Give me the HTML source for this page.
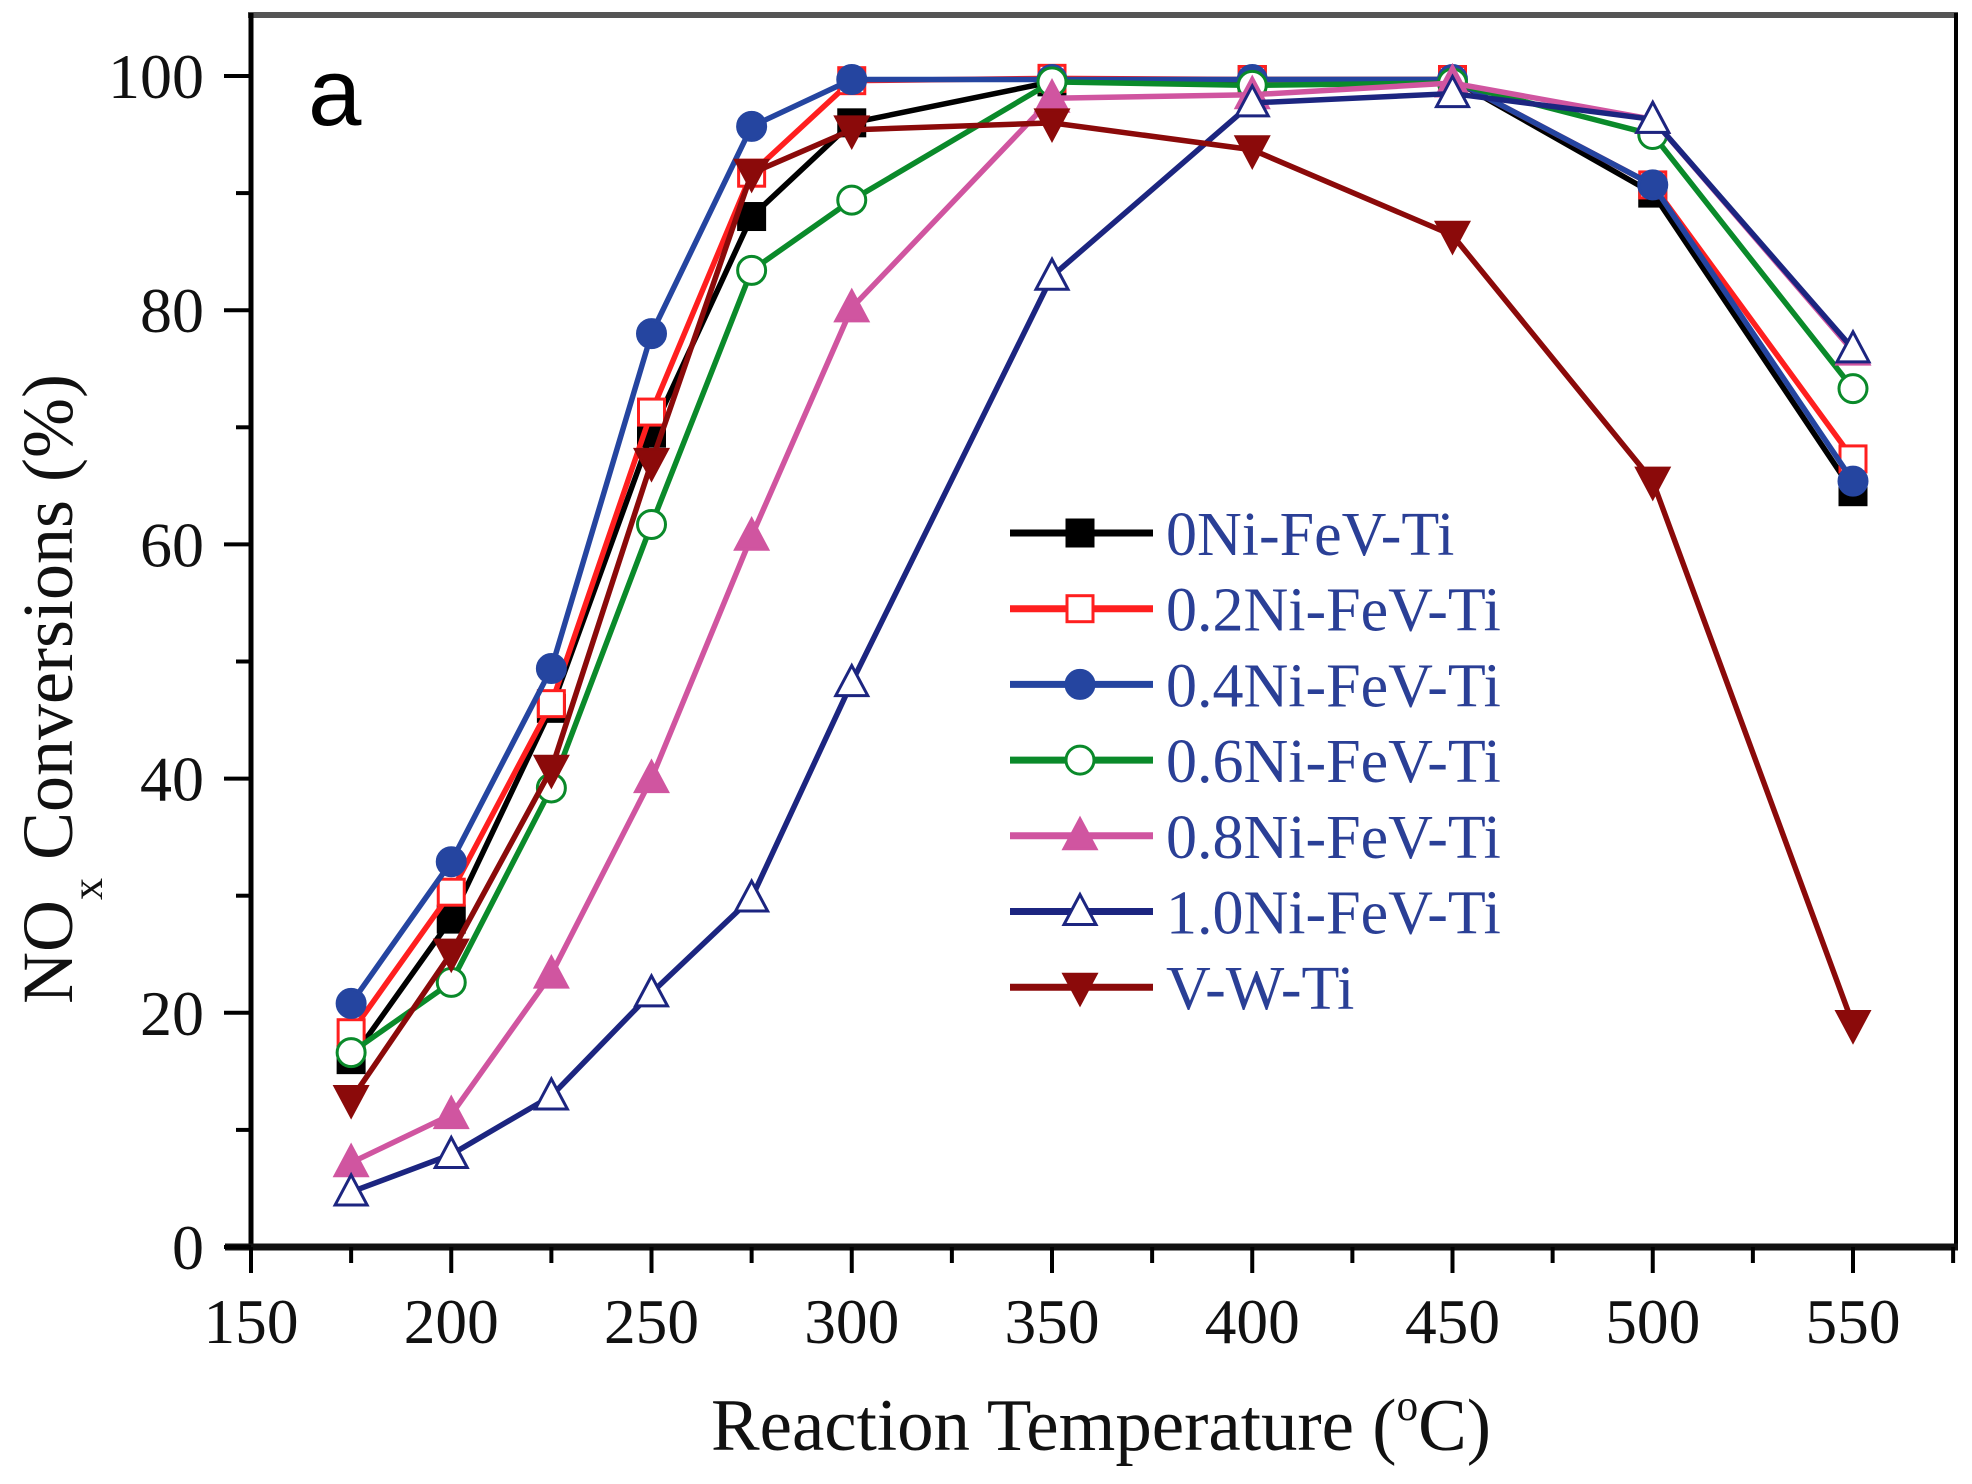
<!DOCTYPE html>
<html><head><meta charset="utf-8"><style>
html,body{margin:0;padding:0;background:#fff;}
svg{display:block;font-family:"Liberation Serif",serif;}
</style></head><body>
<svg id="chart" width="1972" height="1484" viewBox="0 0 1972 1484" xmlns="http://www.w3.org/2000/svg">
<rect x="0" y="0" width="1972" height="1484" fill="#fff"/>
<g id="plot"></g>
</svg>
<script>
const temps=[175,200,225,250,275,300,350,400,450,500,550];
const sNames=["0Ni-FeV-Ti","0.2Ni-FeV-Ti","0.4Ni-FeV-Ti","0.6Ni-FeV-Ti","0.8Ni-FeV-Ti","1.0Ni-FeV-Ti","V-W-Ti"];
const s0=[16,28,46,69.5,88,96,99.5,99.7,99.7,90,64.5];
const s02=[18.3,30.3,46.4,71.3,91.7,99.6,99.8,99.7,99.7,90.7,67.3];
const s04=[20.8,32.9,49.4,78,95.7,99.7,99.7,99.7,99.7,90.7,65.4];
const s06=[16.6,22.6,39.2,61.7,83.4,89.4,99.5,99.2,99.4,95,73.3];
const s08=[7.2,11.3,23.3,40,60.7,80.2,98.1,98.4,99.4,96.3,76.5];
const s10=[4.7,7.9,12.9,21.7,29.8,48.2,82.9,97.7,98.5,96.3,76.7];
const svw=[12.6,25.1,40.8,67,91.7,95.4,96,93.7,86.4,65.4,19];
const xTicks=[150,200,250,300,350,400,450,500,550];
const yTicks=[0,20,40,60,80,100];

const NS="http://www.w3.org/2000/svg";
const g=document.getElementById('plot');
const X0=251,X1=1853,Y0=1247,Y1=76;
function xs(v){return X0+(v-150)*(X1-X0)/400;}
function ys(v){return Y0-v*(Y0-Y1)/100;}
function el(tag,attrs,parent){const e=document.createElementNS(NS,tag);for(const k in attrs)e.setAttribute(k,attrs[k]);(parent||g).appendChild(e);return e;}

const series=[
 {v:s0,c:"#000",m:"square",fill:true},
 {v:s02,c:"#ff1f1f",m:"square",fill:false},
 {v:s04,c:"#2545a0",m:"circle",fill:true},
 {v:s06,c:"#0a8a2a",m:"circle",fill:false},
 {v:s08,c:"#d055a0",m:"tri",fill:true},
 {v:s10,c:"#1c2580",m:"tri",fill:false},
 {v:svw,c:"#8b0a0a",m:"tridown",fill:true}
];
function marker(parent,type,cx,cy,c,fill){
 const f=fill?c:"#fff";let e;
 if(type==="square")e=el('rect',{x:cx-13,y:cy-13,width:26,height:26,fill:f,stroke:c,'stroke-width':3},parent);
 else if(type==="circle")e=el('circle',{cx:cx,cy:cy,r:14,fill:f,stroke:c,'stroke-width':3},parent);
 else if(type==="tri")e=el('polygon',{points:`${cx},${cy-17} ${cx-16},${cy+13} ${cx+16},${cy+13}`,fill:f,stroke:c,'stroke-width':3},parent);
 else e=el('polygon',{points:`${cx},${cy+17} ${cx-16},${cy-13} ${cx+16},${cy-13}`,fill:f,stroke:c,'stroke-width':3},parent);
 return e;
}
const frame=el('g',{});


el('line',{x1:248,y1:15,x2:1958,y2:15,stroke:'#555','stroke-width':6},frame);
el('line',{x1:1956,y1:13,x2:1956,y2:1250,stroke:'#000','stroke-width':4},frame);
el('line',{x1:251,y1:13,x2:251,y2:1250,stroke:'#000','stroke-width':5},frame);
el('line',{x1:225,y1:1247,x2:1958,y2:1247,stroke:'#111','stroke-width':7},frame);
for(let i=0;i<=10;i++){const v=i*10;const y=ys(v);const major=i%2===0;
 const t=el('line',{x1:major?224:236,y1:y,x2:251,y2:y,stroke:'#000','stroke-width':4});
 
 }
yTicks.forEach(v=>{const t=el('text',{x:204,y:ys(v)+22,'text-anchor':'end','font-size':64,fill:'#111'});t.textContent=v;
 
 });
for(let v=150;v<=575;v+=25){const x=xs(v);const major=(v%50===0);
 const t=el('line',{x1:x,y1:1247,x2:x,y2:major?1273:1263,stroke:'#000','stroke-width':4});
 
 }
xTicks.forEach(v=>{const t=el('text',{x:xs(v),y:1343,'text-anchor':'middle','font-size':64,fill:'#111',textLength:95,lengthAdjust:'spacingAndGlyphs'});t.textContent=v;
 
 });
const xt=el('text',{x:711,y:1450,'font-size':74,fill:'#111',textLength:780,lengthAdjust:'spacingAndGlyphs'});
xt.innerHTML='Reaction Temperature (<tspan dy="-30" font-size="44">o</tspan><tspan dy="30">C)</tspan>';


const yt=el('text',{transform:'translate(72,1004) rotate(-90)','font-size':72,fill:'#111'});
yt.innerHTML='NO<tspan dy="30" font-size="44">x</tspan><tspan dy="-30"> Conversions (%)</tspan>';


const pa=el('text',{x:308,y:125,'font-size':96,'font-family':'Liberation Sans, sans-serif',fill:'#000'});pa.textContent='a';


series.forEach((s,i)=>{
 const sg=el('g',{});
 
 
 const pts=s.v.map((v,j)=>xs(temps[j])+','+ys(v)).join(' ');
 el('polyline',{points:pts,fill:'none',stroke:s.c,'stroke-width':5.5,'stroke-linejoin':'round'},sg);
 s.v.forEach((v,j)=>{const m=marker(sg,s.m,xs(temps[j]),ys(v),s.c,s.fill);
  
  });
});
const lg=el('g',{});


series.forEach((s,i)=>{const y=533+i*75.7;
 const eg=el('g',{},lg);
 
 
 el('line',{x1:1010,y1:y,x2:1153,y2:y,stroke:s.c,'stroke-width':7},eg);
 marker(eg,s.m,1080,y,s.c,s.fill);
 const t=el('text',{x:1166,y:y+22,'font-size':62,fill:'#2a3f96'},eg);t.textContent=sNames[i];
});
</script>
</body></html>
